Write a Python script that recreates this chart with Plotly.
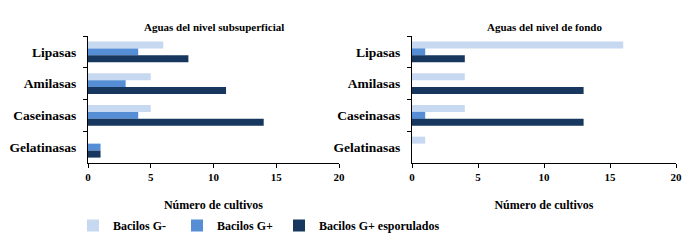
import plotly.graph_objects as go

categories = ["Lipasas", "Amilasas", "Caseinasas", "Gelatinasas"]
series_names = ["Bacilos G-", "Bacilos G+", "Bacilos G+ esporulados"]
colors = ["#C6D9F1", "#558ED5", "#17375E"]

subsuperficial = {
    "Bacilos G-": [6, 5, 5, 0],
    "Bacilos G+": [4, 3, 4, 1],
    "Bacilos G+ esporulados": [8, 11, 14, 1],
}
fondo = {
    "Bacilos G-": [16, 4, 4, 1],
    "Bacilos G+": [1, 0, 1, 0],
    "Bacilos G+ esporulados": [4, 13, 13, 0],
}
x_ticks = [0, 5, 10, 15, 20]
titles = ["Aguas del nivel subsuperficial", "Aguas del nivel de fondo"]
x_title = "Número de cultivos"

FONT = "Liberation Serif"
# page has an 8px body margin: figure is 692x238, coordinates below are page px - 8
W, H = 692, 238
OFF = 8
legend_ids = ["legend", "legend2", "legend3"]
legend_x = [113 - OFF - 40, 217 - OFF - 40, 319 - OFF - 40]

def px(x):
    return (x - OFF) / W

def py(y):
    return 1 - (y - OFF) / H

fig = go.Figure()

for i, name in enumerate(series_names):
    fig.add_trace(go.Bar(
        y=categories, x=subsuperficial[name], orientation="h", name=name,
        marker=dict(color=colors[i], line=dict(width=0)),
        xaxis="x", yaxis="y", legendgroup=name, showlegend=True,
        legend=legend_ids[i],
    ))
for i, name in enumerate(series_names):
    fig.add_trace(go.Bar(
        y=categories, x=fondo[name], orientation="h", name=name,
        marker=dict(color=colors[i], line=dict(width=0)),
        xaxis="x2", yaxis="y2", legendgroup=name, showlegend=False,
    ))

ydom = [py(163), py(36)]
xdom1 = [px(88), px(339)]
xdom2 = [px(412), px(676)]

xcommon = dict(range=[0, 20], tickvals=x_ticks, showgrid=False, zeroline=False,
               showline=True, linecolor="#000", linewidth=1, ticks="outside",
               ticklen=4, tickcolor="#000", automargin=False,
               tickfont=dict(family=FONT, size=11, color="#000", weight="bold"),
               title=dict(text="<b>" + x_title + "</b>",
                          font=dict(family=FONT, size=12, color="#000"), standoff=18))
ycommon = dict(type="category", categoryorder="array", categoryarray=categories,
               autorange="reversed", showgrid=False, zeroline=False,
               showline=True, linecolor="#000", linewidth=1, ticks="outside",
               ticklen=4, tickcolor="#000", tickson="boundaries", ticklabelstandoff=8,
               automargin=False,
               tickfont=dict(family=FONT, size=13.5, color="#000", weight="bold"))

leg_common = dict(orientation="h", xanchor="left", y=py(211), yanchor="top",
                  font=dict(family=FONT, size=12, color="#000", weight="bold"),
                  bgcolor="rgba(0,0,0,0)")

fig.update_layout(
    width=W, height=H,
    margin=dict(l=0, r=0, t=0, b=0, autoexpand=False),
    paper_bgcolor="white", plot_bgcolor="white",
    barmode="group", bargap=0.34, bargroupgap=0,
    xaxis=dict(domain=xdom1, anchor="y", **xcommon),
    yaxis=dict(domain=ydom, anchor="x", **ycommon),
    xaxis2=dict(domain=xdom2, anchor="y2", **xcommon),
    yaxis2=dict(domain=ydom, anchor="x2", **ycommon),
    showlegend=True,
    legend=dict(x=legend_x[0] / W, **leg_common),
    legend2=dict(x=legend_x[1] / W, **leg_common),
    legend3=dict(x=legend_x[2] / W, **leg_common),
    annotations=[
        dict(text="<b>" + titles[0] + "</b>", x=(xdom1[0] + xdom1[1]) / 2, y=py(27),
             xref="paper", yref="paper", xanchor="center", yanchor="middle", showarrow=False,
             font=dict(family=FONT, size=11, color="#000")),
        dict(text="<b>" + titles[1] + "</b>", x=(xdom2[0] + xdom2[1]) / 2, y=py(27),
             xref="paper", yref="paper", xanchor="center", yanchor="middle", showarrow=False,
             font=dict(family=FONT, size=11, color="#000")),
    ],
)

fig.write_html("out.html")
